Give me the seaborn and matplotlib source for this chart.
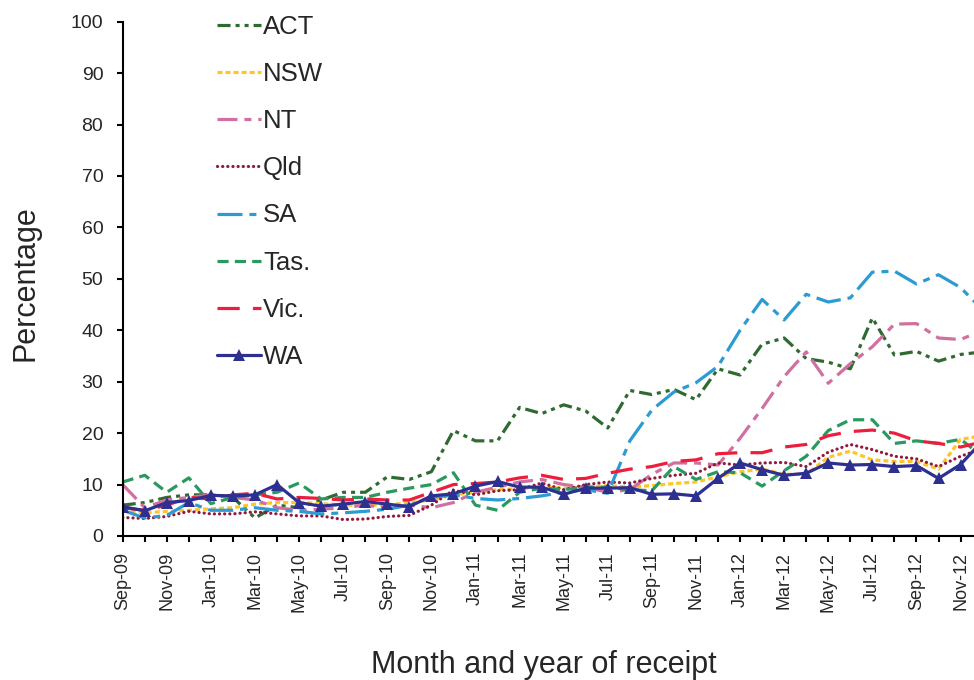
import numpy as np
import pandas as pd
import seaborn as sns
import matplotlib
matplotlib.use("Agg")
import matplotlib.pyplot as plt

# monthly points, Sep-09 .. Dec-12 (the last one runs off the right edge, as in the source)
months = pd.date_range("2009-09-01", periods=40, freq="MS").strftime("%b-%y").tolist()

act = [6.0, 6.5, 7.5, 8.0, 8.0, 7.5, 3.5, 6.0, 5.5, 7.0, 8.5, 8.5, 11.5, 11.0, 12.5, 20.5, 18.5, 18.5, 25.0, 23.8,
       25.5, 24.3, 21.0, 28.3, 27.5, 28.5, 26.5, 32.5, 31.3, 37.3, 38.5, 34.5, 33.8, 32.5, 42.4, 35.2, 35.9, 34.0, 35.3, 35.8]
nsw = [5.0, 4.5, 4.8, 5.0, 5.3, 5.5, 6.2, 6.5, 6.5, 6.3, 6.0, 6.0, 6.0, 6.5, 7.0, 8.0, 8.5, 9.0, 9.2, 9.5,
       9.3, 9.5, 9.8, 9.5, 9.8, 10.2, 10.5, 11.5, 12.5, 13.0, 12.0, 12.0, 15.3, 16.5, 14.8, 14.5, 14.5, 13.0, 18.8, 19.5]
nt = [10.0, 5.5, 7.0, 7.5, 8.0, 7.5, 7.0, 5.5, 5.0, 5.2, 5.5, 6.0, 5.5, 6.0, 5.5, 6.5, 8.5, 9.5, 10.5, 11.0,
      10.0, 9.5, 8.5, 9.0, 12.0, 14.2, 14.2, 13.8, 19.0, 24.8, 31.0, 35.8, 29.7, 33.5, 36.8, 41.2, 41.3, 38.5, 38.2, 40.0]
qld = [3.6, 3.4, 3.8, 4.8, 4.3, 4.3, 4.7, 4.3, 3.9, 3.9, 3.2, 3.3, 3.8, 4.0, 6.0, 8.9, 8.0, 8.8, 9.0, 10.3,
       9.0, 10.0, 10.5, 10.3, 11.2, 11.8, 12.2, 14.2, 13.8, 14.2, 14.3, 13.5, 16.3, 17.8, 16.8, 15.5, 15.0, 13.5, 15.5, 17.0]
sa = [5.0, 3.5, 4.0, 6.5, 5.0, 5.0, 5.5, 5.0, 4.8, 4.3, 4.5, 4.8, 5.2, 6.0, 7.5, 8.0, 7.3, 7.0, 7.3, 7.8,
      8.5, 9.0, 8.3, 18.5, 24.5, 28.0, 29.8, 33.0, 40.0, 46.0, 42.0, 47.0, 45.5, 46.3, 51.3, 51.5, 49.0, 50.8, 48.3, 44.0]
tas = [10.5, 11.8, 8.5, 11.3, 6.3, 7.5, 8.0, 8.5, 10.3, 7.2, 7.5, 7.5, 8.5, 9.3, 10.0, 12.3, 6.0, 5.0, 8.5, 9.3,
       9.0, 9.5, 9.5, 9.0, 8.8, 13.5, 11.0, 12.5, 12.3, 9.7, 12.7, 15.5, 20.5, 22.6, 22.6, 18.0, 18.5, 18.0, 18.8, 15.5]
vic = [5.5, 5.0, 6.0, 7.5, 7.2, 8.0, 8.3, 7.2, 7.5, 7.3, 7.0, 7.2, 7.0, 7.0, 8.5, 10.0, 10.2, 10.5, 11.3, 11.8,
       11.0, 11.2, 12.2, 13.0, 13.5, 14.5, 14.8, 16.0, 16.2, 16.2, 17.3, 17.8, 19.5, 20.3, 20.6, 20.0, 18.5, 18.0, 17.3, 18.3]
wa = [5.7, 4.9, 6.5, 6.9, 7.9, 7.8, 8.0, 10.0, 6.5, 5.8, 6.2, 6.7, 6.2, 5.7, 7.8, 8.2, 9.7, 10.6, 9.5, 9.5,
      8.1, 9.3, 9.3, 9.4, 8.1, 8.2, 7.8, 11.2, 14.2, 12.9, 11.8, 12.2, 14.2, 13.8, 13.9, 13.5, 13.7, 11.2, 13.9, 18.5]

states = ["ACT", "NSW", "NT", "Qld", "SA", "Tas.", "Vic.", "WA"]
series = [act, nsw, nt, qld, sa, tas, vic, wa]

# line looks: colour, dash pattern (points), cap style, marker
styles = {
    "ACT":  ("#2f6a31", (0, (9.4, 3.6, 2.9, 3.6, 2.9, 3.6)), "butt", None),
    "NSW":  ("#ffc425", (0, (3.6, 2.2)), "butt", None),
    "NT":   ("#d070a0", (0, (14.4, 5, 5, 5)), "butt", None),
    "Qld":  ("#8e1b3d", (0, (0.1, 3.6)), "round", None),
    "SA":   ("#2c9ad3", (0, (18, 5, 5, 5)), "butt", None),
    "Tas.": ("#2a9960", (0, (8, 4.5)), "butt", None),
    "Vic.": ("#ee1d3c", (0, (16, 9.5)), "butt", None),
    "WA":   ("#2e3091", "-", "butt", "^"),
}

sns.set_theme(style="white")
plt.rcParams["font.family"] = ["Liberation Sans", "DejaVu Sans"]
plt.rcParams["lines.scale_dashes"] = False

fig = plt.figure(figsize=(9.74, 6.8), dpi=100)
ax = fig.add_axes([122.7 / 974, 1 - 536 / 680, 1 - 122.7 / 974, 514.3 / 680])

x = np.arange(len(months))
for name, vals in zip(states, series):
    col, ls, cap, mk = styles[name]
    sns.lineplot(x=x, y=vals, ax=ax, color=col, linestyle=ls, linewidth=2.3,
                 dash_capstyle=cap, marker=mk, markersize=9, markeredgewidth=0,
                 label=name, clip_on=True)

ax.set_xlim(0, 38.61)
ax.set_ylim(0, 100)
ax.set_yticks(np.arange(0, 101, 10))
ax.set_xticks(x[:39])
ax.set_xticklabels([m if i % 2 == 0 else "" for i, m in enumerate(months[:39])], rotation=90)

for s in ["top", "right"]:
    ax.spines[s].set_visible(False)
for s in ["left", "bottom"]:
    ax.spines[s].set_color("black")
    ax.spines[s].set_linewidth(1.5)

ax.tick_params(axis="x", direction="out", length=4.5, width=1.5, color="black",
               labelsize=13, pad=7, bottom=True)
ax.tick_params(axis="y", direction="out", length=4.5, width=1.5, color="black",
               labelsize=14, pad=9.5, left=True)

ax.set_ylabel("Percentage", fontsize=22)
ax.yaxis.set_label_coords(-0.097, 0.492)
ax.set_xlabel("Month and year of receipt", fontsize=22, va="center")
ax.xaxis.set_label_coords(0.495, -0.251)

ax.legend(loc="upper left", bbox_to_anchor=(217 / 974, 1 - 15 / 680),
          bbox_transform=fig.transFigure, frameon=False, fontsize=18.5,
          handlelength=1.7, handletextpad=0.1, labelspacing=0.9,
          borderpad=0, borderaxespad=0, numpoints=1)

fig.savefig("out.png", dpi=100)
